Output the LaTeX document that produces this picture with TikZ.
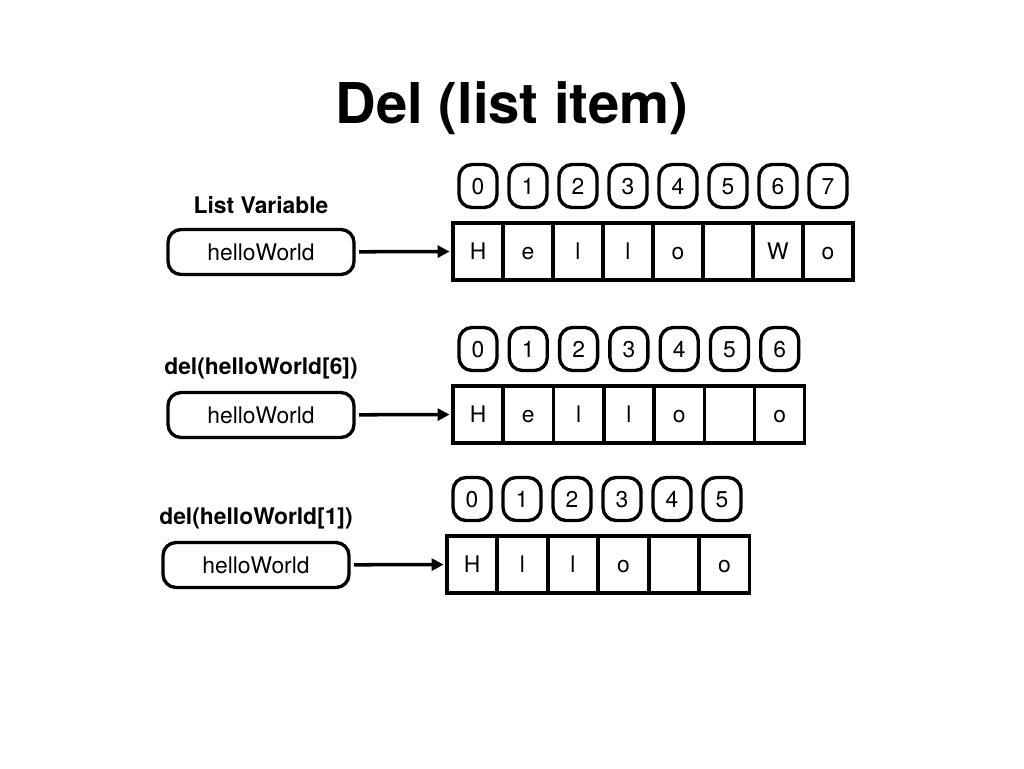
\documentclass[tikz,border=0pt]{standalone}
\usepackage{fontspec}
\setmainfont{TeX Gyre Heros}
\usetikzlibrary{arrows.meta}

\tikzset{
	cellbox/.style={draw, line width=1.9pt, minimum width=1cm, minimum height=1.14cm, inner sep=0pt, text height=9.4pt, text depth=0pt, font=\fontsize{13}{15}\selectfont},
	indexbox/.style={draw, line width=1.9pt, rounded corners=0.26cm, minimum width=0.76cm, minimum height=0.86cm, inner sep=0pt, text height=9.4pt, text depth=0pt, font=\fontsize{13}{15}\selectfont},
	varbox/.style={draw, line width=1.9pt, rounded corners=0.26cm, minimum width=3.72cm, minimum height=0.9cm, inner sep=0pt, text height=9.4pt, text depth=0pt, font=\fontsize{13}{15}\selectfont},
	caption/.style={font=\bfseries\fontsize{13}{15}\selectfont},
	pointer/.style={line width=2pt, -{Triangle[length=0.24cm, width=0.24cm]}, shorten <=2pt, shorten >=1pt}
}

\begin{document}
\begin{tikzpicture}[x=0.02cm, y=-0.02cm]
	\useasboundingbox (0, 0) rectangle (1024, 768);
	\node[font=\bfseries\fontsize{32}{38}\selectfont] (title) at (512, 108) {Del (list item)};

	% original list
	\node[caption] (cap1) at (261, 205) {List Variable};
	\node[varbox] (var1) at (261, 252) {helloWorld};
	\foreach \c [count=\i from 0] in {H,e,l,l,o,{},W,o} {
		\node[cellbox] (a\i) at (478 + 50*\i, 251.5) {\c};
		\node[indexbox] (ai\i) at (478 + 50*\i, 186) {\i};
	}
	\draw[pointer] (var1) -- (a0);

	% after del(helloWorld[6])
	\node[caption] (cap2) at (261, 368) {del(helloWorld[6])};
	\node[varbox] (var2) at (261, 415) {helloWorld};
	\foreach \c [count=\i from 0] in {H,e,l,l,o,{},o} {
		\node[cellbox] (b\i) at (478 + 50.3*\i, 414.5) {\c};
		\node[indexbox] (bi\i) at (478 + 50.3*\i, 349) {\i};
	}
	\draw[pointer] (var2) -- (b0);

	% after del(helloWorld[1])
	\node[caption] (cap3) at (256, 518) {del(helloWorld[1])};
	\node[varbox] (var3) at (256, 565) {helloWorld};
	\foreach \c [count=\i from 0] in {H,l,l,o,{},o} {
		\node[cellbox] (c\i) at (472 + 50.5*\i, 564.5) {\c};
		\node[indexbox] (ci\i) at (472 + 50*\i, 499) {\i};
	}
	\draw[pointer] (var3) -- (c0);
\end{tikzpicture}
\end{document}
